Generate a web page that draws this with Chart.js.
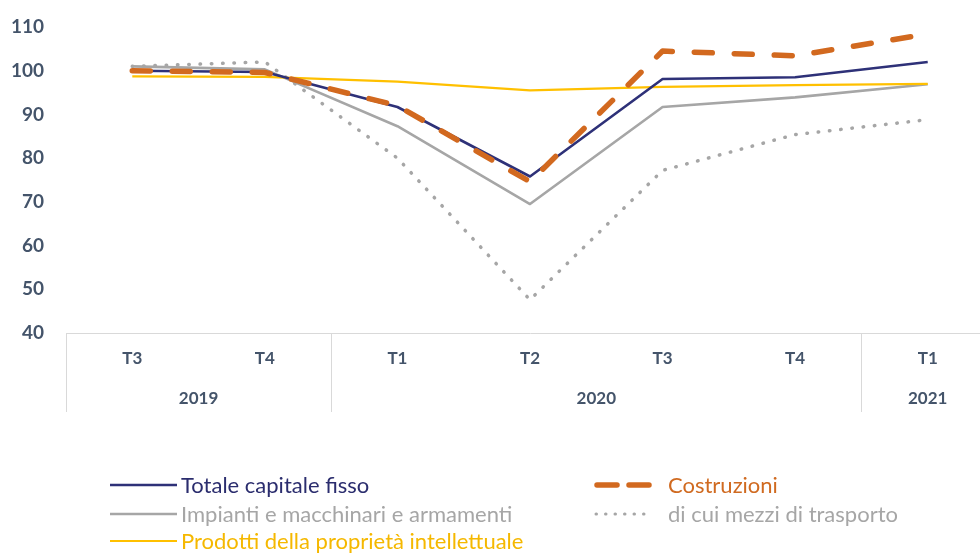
<!DOCTYPE html>
<html>
<head>
<meta charset="utf-8">
<script src="https://cdn.jsdelivr.net/npm/chart.js@4.4.1/dist/chart.umd.min.js"></script>
<style>
  html, body { margin: 0; padding: 0; overflow: hidden; background: #ffffff; width: 980px; height: 554px; }
  #wrap { position: relative; width: 980px; height: 554px; overflow: hidden; }
  #c { position: absolute; left: 0; top: 0; }
  .lg { position: absolute; font-family: Lato, "Open Sans", sans-serif; font-size: 22px; line-height: 24px; white-space: nowrap; }
  .lg svg { position: absolute; top: 0; }
  .lg span { position: absolute; top: 0; }
</style>
</head>
<body>
<div id="wrap">
  <canvas id="c" width="995" height="554"></canvas>
  <div id="legend"></div>
</div>
<script>
const categories = ['T3', 'T4', 'T1', 'T2', 'T3', 'T4', 'T1'];
const years = ['2019', '2020', '2021'];
const yearSpans = [2, 4, 1];
const yTicks = [40, 50, 60, 70, 80, 90, 100, 110];

const seriesNames = [
  'Totale capitale fisso',
  'Costruzioni',
  'Impianti e macchinari e armamenti',
  'di cui mezzi di trasporto',
  'Prodotti della proprietà intellettuale'
];
const totale      = [100.0, 99.7, 91.7, 75.8, 98.1, 98.5, 102.0];
const costruzioni = [100.0, 99.6, 92.0, 74.6, 104.5, 103.4, 108.4];
const impianti    = [101.0, 100.3, 87.3, 69.5, 91.7, 93.9, 96.9];
const mezzi       = [101.0, 102.0, 80.0, 47.6, 77.2, 85.4, 88.8];
const prodotti    = [98.7, 98.6, 97.5, 95.5, 96.3, 96.7, 97.0];

const NAVY = '#2e3178', ORANGE = '#d2691f', GRAY = '#a6a6a6', YELLOW = '#ffc000';
const TICK = '#44546a';
const FONT = 'Lato, "Open Sans", sans-serif';

const styles = [
  { color: NAVY,   width: 2.6, dash: [],          cap: 'butt',  order: 1 },
  { color: ORANGE, width: 5.5, dash: [18, 22],    cap: 'round', order: 0 },
  { color: GRAY,   width: 2.6, dash: [],          cap: 'butt',  order: 3 },
  { color: GRAY,   width: 3.5, dash: [0.5, 10.8], cap: 'round', order: 4 },
  { color: YELLOW, width: 2.2, dash: [],          cap: 'butt',  order: 2 }
];
const values = [totale, costruzioni, impianti, mezzi, prodotti];

const datasets = seriesNames.map((name, i) => ({
  label: name,
  data: values[i],
  borderColor: styles[i].color,
  backgroundColor: styles[i].color,
  borderWidth: styles[i].width,
  borderDash: styles[i].dash,
  borderCapStyle: styles[i].cap,
  borderJoinStyle: 'round',
  pointRadius: 0,
  tension: 0,
  fill: false,
  order: styles[i].order
}));

const groupPlugin = {
  id: 'groups',
  afterDraw(chart) {
    const xs = chart.scales.x;
    const ctx = chart.ctx;
    const n = categories.length;
    const w = (xs.right - xs.left) / n;
    const top = chart.chartArea.bottom;
    ctx.save();
    ctx.strokeStyle = '#d9d9d9';
    ctx.lineWidth = 1;
    let k = 0;
    const bounds = [0];
    yearSpans.forEach(s => { k += s; bounds.push(k); });
    bounds.forEach(b => {
      const x = Math.round(xs.left + b * w) + 0.5;
      ctx.beginPath();
      ctx.moveTo(x, top);
      ctx.lineTo(x, top + 79);
      ctx.stroke();
    });
    ctx.fillStyle = TICK;
    ctx.font = 'bold 17px ' + FONT;
    ctx.textAlign = 'center';
    ctx.textBaseline = 'middle';
    years.forEach((y, i) => {
      const cx = xs.left + (bounds[i] + bounds[i + 1]) / 2 * w;
      ctx.fillText(y, cx, top + 66);
    });
    ctx.restore();
  }
};

new Chart(document.getElementById('c'), {
  type: 'line',
  data: { labels: categories, datasets },
  options: {
    responsive: false,
    animation: false,
    devicePixelRatio: 1,
    layout: { padding: { top: 27, right: 1, left: 0, bottom: 0 } },
    plugins: { legend: { display: false }, tooltip: { enabled: false } },
    scales: {
      x: {
        type: 'category',
        offset: true,
        grid: { display: false, drawTicks: false },
        border: { display: true, color: '#d9d9d9', width: 1 },
        ticks: {
          color: TICK,
          font: { family: FONT, size: 17, weight: 'bold' },
          padding: 15,
          maxRotation: 0,
          autoSkip: false
        },
        afterFit(scale) { scale.height = 221; }
      },
      y: {
        min: 40, max: 110,
        afterBuildTicks(scale) { scale.ticks = yTicks.map(v => ({ value: v })); },
        grid: { display: false, drawTicks: false },
        border: { display: false },
        ticks: {
          color: TICK,
          font: { family: FONT, size: 19, weight: 'bold' },
          padding: 22
        },
        afterFit(scale) {
          scale.width = 66;
          scale.paddingTop = 0;
          scale.paddingBottom = 0;
        }
      }
    }
  },
  plugins: [groupPlugin]
});

// HTML legend built from the datasets
const legendSlots = [
  { left: 110, top: 473 },
  { left: 594, top: 473 },
  { left: 110, top: 502 },
  { left: 594, top: 502 },
  { left: 110, top: 529 }
];
const legend = document.getElementById('legend');
datasets.forEach((ds, i) => {
  const slot = legendSlots[i];
  const item = document.createElement('div');
  item.className = 'lg';
  item.style.left = slot.left + 'px';
  item.style.top = slot.top + 'px';
  const sw = i % 2 === 1 ? 60 : 67;
  let dash = '';
  let cap = 'butt';
  let lw = 2.6;
  if (i === 1) { dash = '20 12'; cap = 'round'; lw = 5.5; }
  if (i === 3) { dash = '0.5 9'; cap = 'round'; lw = 3; }
  if (i === 4) lw = 2.2;
  const svgNS = 'http://www.w3.org/2000/svg';
  const svg = document.createElementNS(svgNS, 'svg');
  svg.setAttribute('width', sw);
  svg.setAttribute('height', 24);
  svg.style.left = '0px';
  const line = document.createElementNS(svgNS, 'line');
  const pad = i === 1 ? 3 : (i === 3 ? 2 : 0);
  line.setAttribute('x1', pad);
  line.setAttribute('x2', sw - pad);
  line.setAttribute('y1', 12);
  line.setAttribute('y2', 12);
  line.setAttribute('stroke', ds.borderColor);
  line.setAttribute('stroke-width', lw);
  line.setAttribute('stroke-linecap', cap);
  if (dash) line.setAttribute('stroke-dasharray', dash);
  svg.appendChild(line);
  item.appendChild(svg);
  const txt = document.createElement('span');
  txt.textContent = ds.label;
  txt.style.left = (i % 2 === 1 ? 74 : 71) + 'px';
  txt.style.color = i === 0 ? '#2b2d6e' : (i === 1 ? '#d06a20' : (i === 4 ? '#f5b800' : '#a6a6a6'));
  item.appendChild(txt);
  legend.appendChild(item);
});
</script>
</body>
</html>
